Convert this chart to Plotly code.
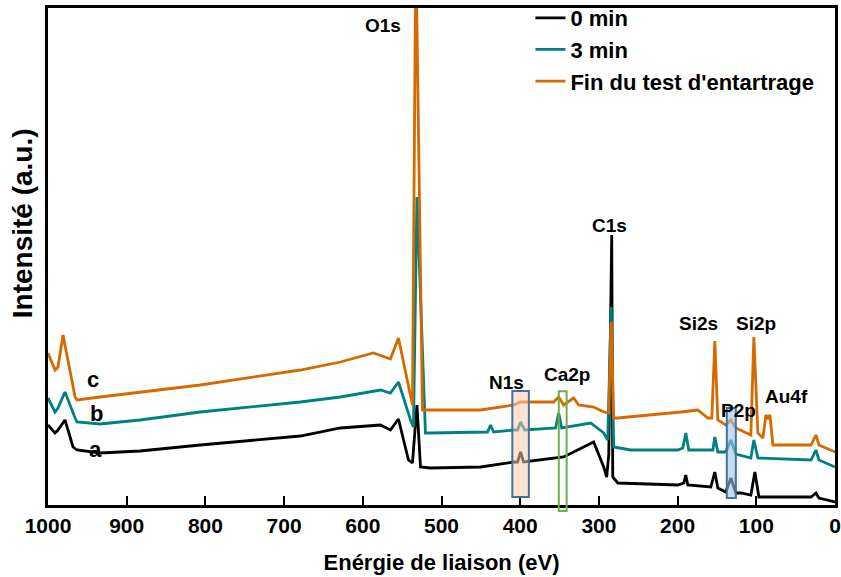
import plotly.graph_objects as go

# ---------------- data (binding energy in eV, intensity in a.u.) ----------------
ev_a = [1000, 991.1, 987.3, 978.4, 968.2, 963.1, 933.8, 883.0, 806.6, 679.4, 628.5, 577.6,
        564.9, 554.7, 542.0, 536.9, 531.2, 526.7, 514.0, 450.4, 408.4, 403.3, 399.5, 395.7,
        344.8, 306.6, 293.9, 290.1, 287.5, 283.7, 282.4, 276.0, 199.7, 192.1, 189.6, 187.0,
        157.8, 152.7, 148.9, 138.7, 132.3, 126.0, 119.6, 106.9, 101.8, 96.7, 30.5, 24.2, 20.4, 0]
int_a = [80, 72, 75, 85, 58, 55, 52, 54, 60, 69, 77, 80,
         75, 86, 45, 42, 100, 38, 37, 38, 43, 43, 53, 43,
         48, 63, 38, 28, 50, 270, 28, 22, 20, 22, 30, 20,
         18, 33, 17, 13, 27, 12, 12, 10, 33, 8, 8, 12, 7, 3]

ev_b = [1000, 991.1, 987.3, 978.4, 965.6, 963.1, 933.8, 883.0, 806.6, 679.4, 628.5, 577.6,
        564.9, 554.7, 539.4, 535.6, 531.2, 520.4, 514.0, 450.4, 441.5, 437.7, 433.8, 408.4,
        403.3, 399.5, 394.4, 355.0, 351.1, 347.3, 310.4, 293.9, 288.8, 284.4, 281.2, 259.5,
        199.7, 193.4, 189.6, 185.8, 155.2, 152.7, 148.9, 138.7, 132.3, 126.0, 106.9, 103.1,
        98.0, 30.5, 24.2, 20.4, 0]
int_b = [107, 93, 97, 113, 87, 83, 81, 85, 93, 103, 108, 115,
         112, 123, 85, 78, 308, 72, 72, 73, 73, 80, 73, 75,
         75, 83, 75, 77, 92, 77, 82, 72, 65, 198, 58, 55,
         55, 57, 72, 55, 55, 68, 53, 53, 65, 51, 47, 65,
         47, 45, 55, 45, 38]

ev_c = [1000, 991.1, 987.3, 980.9, 965.6, 963.1, 933.8, 883.0, 806.6, 679.4, 628.5, 586.5,
        564.9, 554.7, 542.0, 536.9, 532.6, 524.2, 450.4, 408.4, 399.5, 357.5, 351.1, 344.8,
        332.1, 325.7, 306.6, 293.9, 287.5, 284.4, 281.2, 276.0, 195.9, 174.3, 161.6, 156.5,
        152.7, 148.9, 138.7, 132.3, 126.0, 106.9, 103.1, 98.0, 91.6, 87.8, 85.2, 82.7,
        78.9, 30.5, 24.2, 20.4, 0]
int_c = [152, 135, 138, 170, 108, 105, 108, 113, 120, 135, 143, 152,
         146, 167, 118, 100, 560, 95, 95, 100, 103, 103, 108, 100,
         107, 100, 98, 93, 92, 183, 87, 87, 93, 95, 87, 87,
         164, 85, 80, 85, 77, 70, 168, 72, 67, 90, 87, 90,
         60, 60, 70, 60, 53]

series_names = ["0 min", "3 min", "Fin du test d'entartrage"]
series_colors = ["#000000", "#008080", "#D46A00"]

peak_labels = ["O1s", "C1s", "Si2s", "Si2p", "Au4f", "P2p", "N1s", "Ca2p"]
peak_label_ev = [574, 286, 174, 100.5, 62, 123, 417, 340]
peak_label_int = [480, 280, 182, 182, 109, 95, 123, 131]

curve_labels = ["a", "b", "c"]
curve_label_ev = [940, 938, 943]
curve_label_int = [56, 92, 126]

x_ticks = [1000, 900, 800, 700, 600, 500, 400, 300, 200, 100, 0]

# ---------------- figure ----------------
fig = go.Figure()
for xs, ys, name, col in zip([ev_a, ev_b, ev_c], [int_a, int_b, int_c], series_names, series_colors):
    fig.add_trace(go.Scatter(x=xs, y=ys, mode="lines", name=name,
                             line=dict(color=col, width=2.8)))

FAM = "Liberation Sans, Arial, sans-serif"
for t, xv, yv in zip(peak_labels, peak_label_ev, peak_label_int):
    fig.add_annotation(x=xv, y=yv, xref="x", yref="y", text=t, showarrow=False,
                       font=dict(family=FAM, size=19, color="#000", weight="bold"))
for t, xv, yv in zip(curve_labels, curve_label_ev, curve_label_int):
    fig.add_annotation(x=xv, y=yv, xref="x", yref="y", text=t, showarrow=False,
                       font=dict(family=FAM, size=22, color="#000", weight="bold"))

# highlight boxes
fig.add_shape(type="rect", xref="x", yref="y", x0=410, x1=389, y0=8, y1=114,
              fillcolor="rgba(248,203,173,0.55)", line=dict(color="rgb(65,113,156)", width=2),
              layer="above")
fig.add_shape(type="rect", xref="x", yref="paper", x0=351, x1=341, y0=-0.012, y1=0.229,
              fillcolor="rgba(0,0,0,0)", line=dict(color="rgb(112,173,71)", width=2),
              layer="above")
fig.add_shape(type="rect", xref="x", yref="y", x0=137.5, x1=126, y0=7, y1=97,
              fillcolor="rgba(157,195,230,0.6)", line=dict(color="rgb(65,113,156)", width=2),
              layer="above")

fig.add_annotation(x=-0.033, y=0.567, xref="paper", yref="paper", text="Intensité (a.u.)",
                   textangle=-90, showarrow=False, xanchor="center", yanchor="middle",
                   font=dict(family=FAM, size=28, color="#000000", weight="bold"))

fig.update_layout(
    width=841, height=577,
    margin=dict(l=48, r=6, t=8, b=72, autoexpand=False),
    paper_bgcolor="white", plot_bgcolor="white",
    showlegend=True,
    legend=dict(x=0.613, y=1.022, xanchor="left", yanchor="top",
                bgcolor="rgba(0,0,0,0)", borderwidth=0,
                font=dict(family=FAM, size=22, color="#000000", weight="bold"),
                tracegroupgap=0),
    xaxis=dict(range=[1000, 0], tickmode="array", tickvals=x_ticks,
               ticktext=[str(v) for v in x_ticks], automargin=False,
               ticks="inside", ticklen=9, tickwidth=2, tickcolor="#000",
               showline=True, linecolor="#000", linewidth=2.5, mirror=True,
               showgrid=False, zeroline=False,
               tickfont=dict(family="Liberation Sans Narrow, Liberation Sans, Arial", size=21,
                             color="#000", weight="bold"),
               title=dict(text="Enérgie de liaison (eV)", standoff=19,
                          font=dict(family="Liberation Sans Narrow, Liberation Sans, Arial",
                                    size=22, color="#000", weight="bold"))),
    yaxis=dict(range=[0, 497], showticklabels=False, ticks="", showgrid=False, automargin=False,
               zeroline=False, showline=True, linecolor="#000", linewidth=2.5, mirror=True),
)

fig.write_html("out.html", config={"displayModeBar": False},
               post_script="document.body.style.margin='0';")
